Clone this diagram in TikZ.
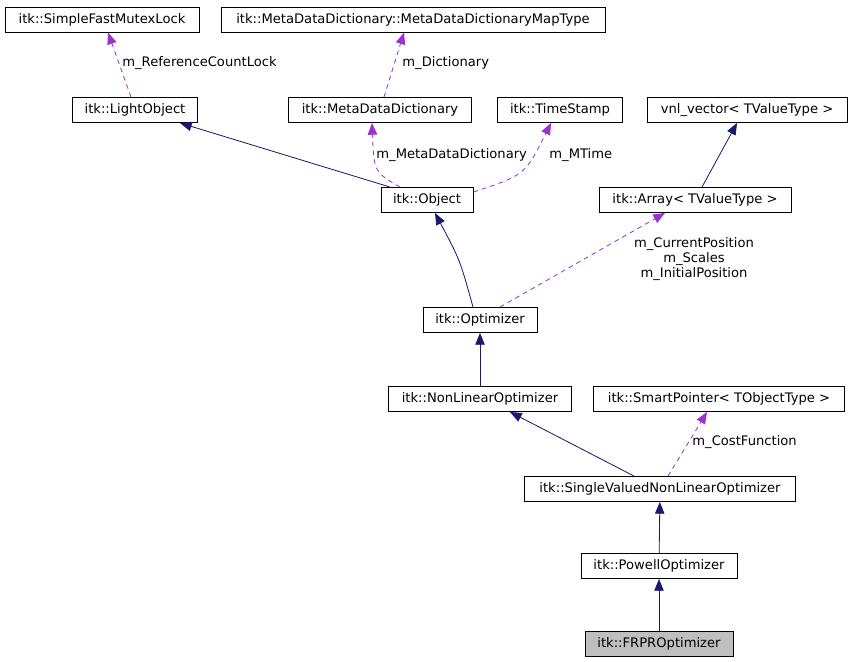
\documentclass[tikz,border=0pt]{standalone}
\usepackage{fontspec}
\setmainfont{DejaVu Sans}
\usetikzlibrary{arrows.meta, calc}
\definecolor{inhcol}{HTML}{191970}
\definecolor{usecol}{HTML}{9A32CD}
\begin{document}
\begin{tikzpicture}[x=0.03cm, y=-0.03cm, font=\fontsize{11.2}{12.8}\selectfont,
  cls/.style={draw, rectangle, inner xsep=0pt, inner ysep=0pt, minimum height=0.75cm, line width=0.8pt},
  inh/.style={draw=inhcol, line width=0.7pt, -{Triangle[length=10pt, width=8pt]}, color=inhcol},
  use/.style={draw=usecol, line width=0.7pt, dash pattern=on 4pt off 3.5pt, -{Triangle[length=10pt, width=8pt]}, color=usecol},
  lbl/.style={inner sep=1pt, align=center}]
\useasboundingbox (0,0) rectangle (852,661);

\node[cls, minimum width=194*0.03cm] (mutex) at (102,19.5) {itk::SimpleFastMutexLock};
\node[cls, minimum width=384*0.03cm] (maptype) at (413,19.5) {itk::MetaDataDictionary::MetaDataDictionaryMapType};

\node[cls, minimum width=125*0.03cm] (light) at (135,110) {itk::LightObject};
\node[cls, minimum width=183*0.03cm] (dict) at (380,110) {itk::MetaDataDictionary};
\node[cls, minimum width=125*0.03cm] (stamp) at (560,110) {itk::TimeStamp};
\node[cls, minimum width=200*0.03cm] (vnl) at (747,110) {vnl\_vector< TValueType >};

\node[cls, minimum width=92*0.03cm] (object) at (427,200) {itk::Object};
\node[cls, minimum width=192*0.03cm] (array) at (695,200) {itk::Array< TValueType >};

\node[cls, minimum width=114*0.03cm] (opt) at (480,320) {itk::Optimizer};
\node[cls, minimum width=183*0.03cm] (nonlin) at (480,399) {itk::NonLinearOptimizer};
\node[cls, minimum width=251*0.03cm] (smart) at (719,399) {itk::SmartPointer< TObjectType >};
\node[cls, minimum width=271*0.03cm] (single) at (660,489) {itk::SingleValuedNonLinearOptimizer};
\node[cls, minimum width=156*0.03cm] (powell) at (659,566) {itk::PowellOptimizer};
\node[cls, minimum width=148*0.03cm, fill=black!25] (frpr) at (659,644) {itk::FRPROptimizer};

% usage (dashed)
\draw[use] ($(light.north)+(-4,0)$) -- ($(mutex.south)+(6,0)$);
\node[lbl, anchor=west] (lref) at (121,63) {m\_ReferenceCountLock};
\draw[use] ($(dict.north)+(4,0)$) -- ($(maptype.south)+(-9,0)$);
\node[lbl, anchor=west] (ldict) at (401,63) {m\_Dictionary};
\draw[use] ($(object.north)+(-27,0)$) .. controls (374,172) .. ($(dict.south)+(-8,0)$);
\node[lbl, anchor=west] (lmeta) at (375,155) {m\_MetaDataDictionary};
\draw[use] ($(object.north east)+(0,5)$) .. controls (525,175) .. ($(stamp.south)+(-9,0)$);
\node[lbl, anchor=west] (ltime) at (548,155) {m\_MTime};
\draw[use] ($(opt.north)+(20,0)$) -- ($(array.south)+(-30,0)$);
\node[lbl] (lpos) at (694,259) {m\_CurrentPosition\\m\_Scales\\m\_InitialPosition};
\draw[use] ($(single.north)+(8,0)$) -- ($(smart.south)+(-12,0)$);
\node[lbl, anchor=west] (lcost) at (691,442) {m\_CostFunction};

% inheritance (solid)
\draw[inh] ($(object.north)+(-37,0)$) -- ($(light.south)+(45,0)$);
\draw[inh] ($(array.north)+(7,0)$) -- ($(vnl.south)+(-10,0)$);
\draw[inh] ($(opt.north)+(-7,0)$) .. controls (460,260) .. ($(object.south)+(8,0)$);
\draw[inh] (nonlin) -- (opt);
\draw[inh] ($(single.north)+(-26,0)$) -- ($(nonlin.south)+(30,0)$);
\draw[inh] (powell) -- (single);
\draw[inh] (frpr) -- (powell);
\end{tikzpicture}
\end{document}
